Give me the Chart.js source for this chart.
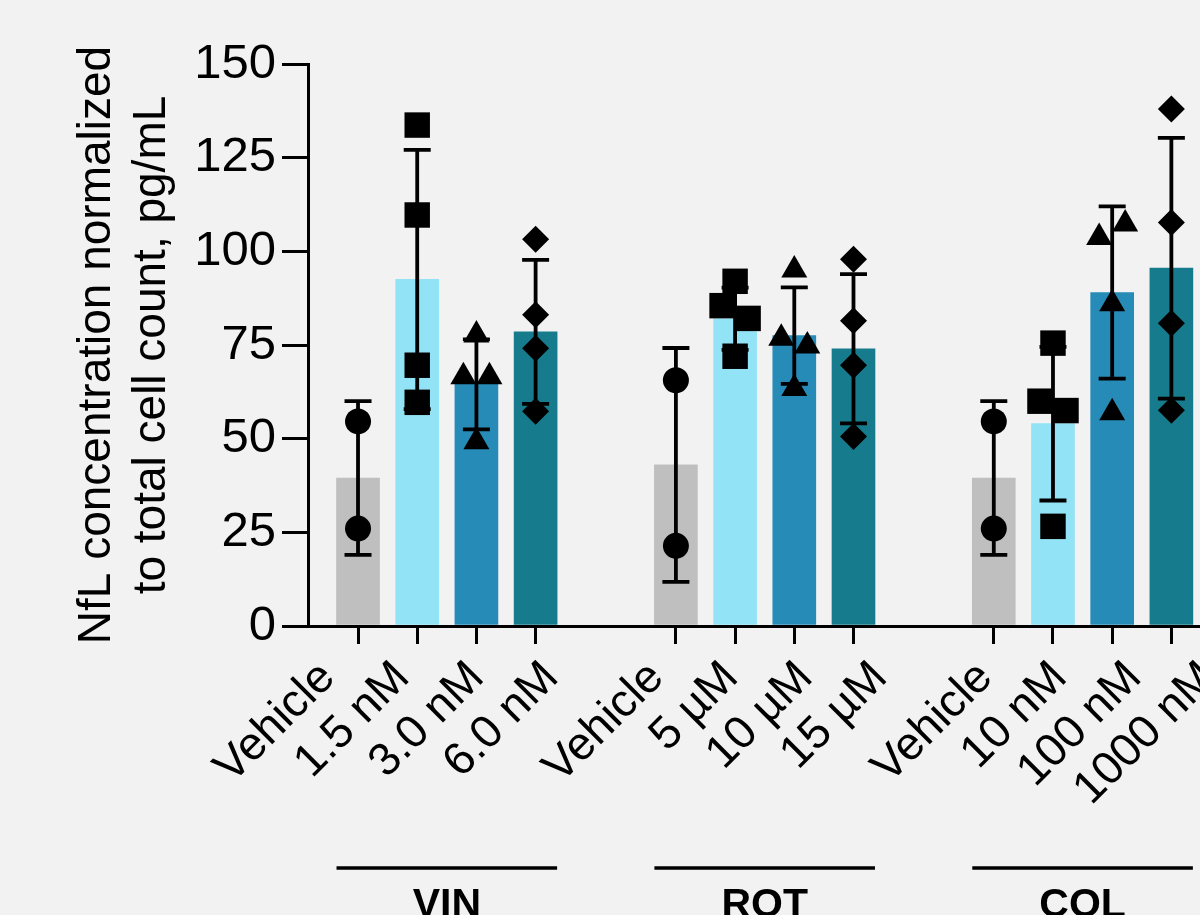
<!DOCTYPE html>
<html>
<head>
<meta charset="utf-8">
<script src="https://cdn.jsdelivr.net/npm/chart.js@4.4.0/dist/chart.umd.min.js"></script>
<style>
  html, body { margin: 0; padding: 0; background: #f2f2f2; overflow: hidden; }
</style>
</head>
<body>
<canvas id="chart" width="1280" height="915"></canvas>
<script>
const groupNames = ['VIN', 'ROT', 'COL'];
const doseLabels = [
  ['Vehicle', '1.5 nM', '3.0 nM', '6.0 nM'],
  ['Vehicle', '5 µM', '10 µM', '15 µM'],
  ['Vehicle', '10 nM', '100 nM', '1000 nM']
];
// bar height = mean, whiskers = SD
const meanValues = [
  [39.5, 92.5, 64.5, 78.5],
  [43, 82, 77.5, 74],
  [39.5, 54, 89, 95.5]
];
const sdValues = [
  [20.5, 34.6, 12, 19.2],
  [31.2, 8.3, 12.9, 19.9],
  [20.5, 20.5, 23, 34.8]
];
// individual replicates
const replicateValues = [
  [[54.6, 26.0], [133.7, 109.7, 69.6, 59.7], [77.7, 66.5, 66.5, 49.2], [103.2, 83.1, 74.1, 57.3]],
  [[65.6, 21.4], [92.0, 85.5, 82.1, 72.0], [95.0, 76.8, 74.7, 63.4], [97.9, 81.5, 69.6, 50.6]],
  [[54.6, 26.0], [75.5, 60.0, 57.5, 26.6], [103.7, 107.3, 86.0, 56.9], [138.0, 107.7, 80.8, 57.6]]
];
// side a symbol is pushed to when it would overlap another (-1 left, 1 right)
const replicateSide = [
  [[0, 0], [0, 0, 0, 0], [0, -1, 1, 0], [0, 0, 0, 0]],
  [[0, 0], [0, -1, 1, 0], [0, -1, 1, 0], [0, 0, 0, 0]],
  [[0, 0], [0, -1, 1, 0], [-1, 1, 0, 0], [0, 0, 0, 0]]
];
const yTicks = [0, 25, 50, 75, 100, 125, 150];

const FONT = '"Liberation Sans", Arial, sans-serif';
const barColors = ['#bfbfbf', '#92e3f5', '#268bb7', '#167c8d'];
const markers = ['circle', 'rect', 'triangle', 'rectRot'];
const markerRadius = [13, 18, 15, 13.5];
const BAR_W = 43;
const GROUP_GAP = 1.37;  // empty slots between groups (bars)
const LABEL_GAP = 0.413; // same for the tick labels, which run wider than the bars
const NUDGE = 0.22;

const slot = (g, i, gap) => g * (4 + gap) + i;

Chart.defaults.font.family = FONT;
Chart.defaults.color = '#000';

const bars = [], barColor = [], errs = [], points = [];
const tickPos = [], labelPos = [], labelText = [];
groupNames.forEach((name, g) => {
  doseLabels[g].forEach((lab, i) => {
    const x = slot(g, i, GROUP_GAP);
    bars.push({x: x, y: meanValues[g][i]});
    barColor.push(barColors[i]);
    errs.push(sdValues[g][i]);
    tickPos.push(x);
    labelPos.push(slot(g, i, LABEL_GAP));
    labelText.push(lab);
    replicateValues[g][i].forEach((v, k) => {
      points.push({x: x + replicateSide[g][i][k] * NUDGE, y: v, s: i});
    });
  });
});

const errorBars = {
  id: 'errorBars',
  afterDatasetDraw(chart, args) {
    if (args.index !== 0) return;
    const {ctx} = chart;
    const y = chart.scales.y;
    ctx.save();
    ctx.strokeStyle = '#000';
    ctx.lineWidth = 3.8;
    args.meta.data.forEach((bar, n) => {
      const m = bars[n].y, sd = errs[n];
      const top = y.getPixelForValue(m + sd), bot = y.getPixelForValue(m - sd);
      ctx.beginPath();
      ctx.moveTo(bar.x, top); ctx.lineTo(bar.x, bot);
      ctx.moveTo(bar.x - 13.5, top); ctx.lineTo(bar.x + 13.5, top);
      ctx.moveTo(bar.x - 13.5, bot); ctx.lineTo(bar.x + 13.5, bot);
      ctx.stroke();
    });
    ctx.restore();
  }
};

const groupBrackets = {
  id: 'groupBrackets',
  afterDraw(chart) {
    const {ctx} = chart;
    const x = chart.scales.x;
    const base = chart.chartArea.bottom;
    ctx.save();
    ctx.lineWidth = 3.5;
    ctx.strokeStyle = '#000';
    ctx.fillStyle = '#000';
    ctx.font = 'bold 41px ' + FONT;
    ctx.textAlign = 'center';
    ctx.textBaseline = 'alphabetic';
    groupNames.forEach((name, g) => {
      const l = x.getPixelForValue(slot(g, 0, GROUP_GAP)) - BAR_W / 2;
      const r = x.getPixelForValue(slot(g, 3, GROUP_GAP)) + BAR_W / 2;
      ctx.beginPath();
      ctx.moveTo(l, base + 242);
      ctx.lineTo(r, base + 242);
      ctx.stroke();
      ctx.fillText(name, (l + r) / 2, base + 291);
    });
    ctx.restore();
  }
};

new Chart(document.getElementById('chart'), {
  type: 'bar',
  data: {
    datasets: [{
      type: 'bar',
      data: bars,
      backgroundColor: barColor,
      borderWidth: 0,
      barThickness: BAR_W,
      order: 2
    }, {
      type: 'scatter',
      data: points,
      pointStyle: c => c.raw ? markers[c.raw.s] : 'circle',
      pointRadius: c => c.raw ? markerRadius[c.raw.s] : 10,
      backgroundColor: '#000',
      borderColor: '#000',
      borderWidth: 0,
      order: 1
    }]
  },
  options: {
    responsive: false,
    animation: false,
    events: [],
    layout: {autoPadding: false, padding: {top: 64, left: 0, right: 0, bottom: 0}},
    plugins: {legend: {display: false}, tooltip: {enabled: false}},
    scales: {
      x: {
        type: 'linear',
        min: -0.845,
        max: 15.575,
        offset: false,
        afterBuildTicks: a => { a.ticks = tickPos.map(v => ({value: v})); },
        afterFit: a => { a.height = 18; a.paddingLeft = 0; a.paddingRight = 0; },
        ticks: {display: false},
        grid: {offset: false, drawOnChartArea: false, drawTicks: true, tickLength: 18, lineWidth: 3, color: '#000'},
        border: {display: true, width: 3, color: '#000'}
      },
      x2: {
        type: 'linear',
        position: 'bottom',
        weight: 1,
        min: -0.1,
        max: 11.86,
        afterBuildTicks: a => { a.ticks = labelPos.map(v => ({value: v})); },
        afterFit: a => { a.height = 271; a.paddingLeft = 0; a.paddingRight = 0; },
        ticks: {
          autoSkip: false,
          minRotation: 45,
          maxRotation: 45,
          padding: 7,
          labelOffset: -28,
          font: {size: 46},
          callback: (v, i) => labelText[i]
        },
        grid: {display: false, drawTicks: false},
        border: {display: false}
      },
      y: {
        min: 0,
        max: 150,
        afterBuildTicks: a => { a.ticks = yTicks.map(v => ({value: v})); },
        afterFit: a => { a.width = 308; },
        ticks: {font: {size: 49}, padding: 6},
        grid: {drawOnChartArea: false, tickLength: 26, lineWidth: 3, color: '#000'},
        border: {width: 3, color: '#000'},
        title: {
          display: true,
          text: ['NfL concentration normalized', 'to total cell count, pg/mL'],
          font: {size: 46},
          padding: {top: 70, bottom: 0}
        }
      }
    }
  },
  plugins: [errorBars, groupBrackets]
});
</script>
</body>
</html>
